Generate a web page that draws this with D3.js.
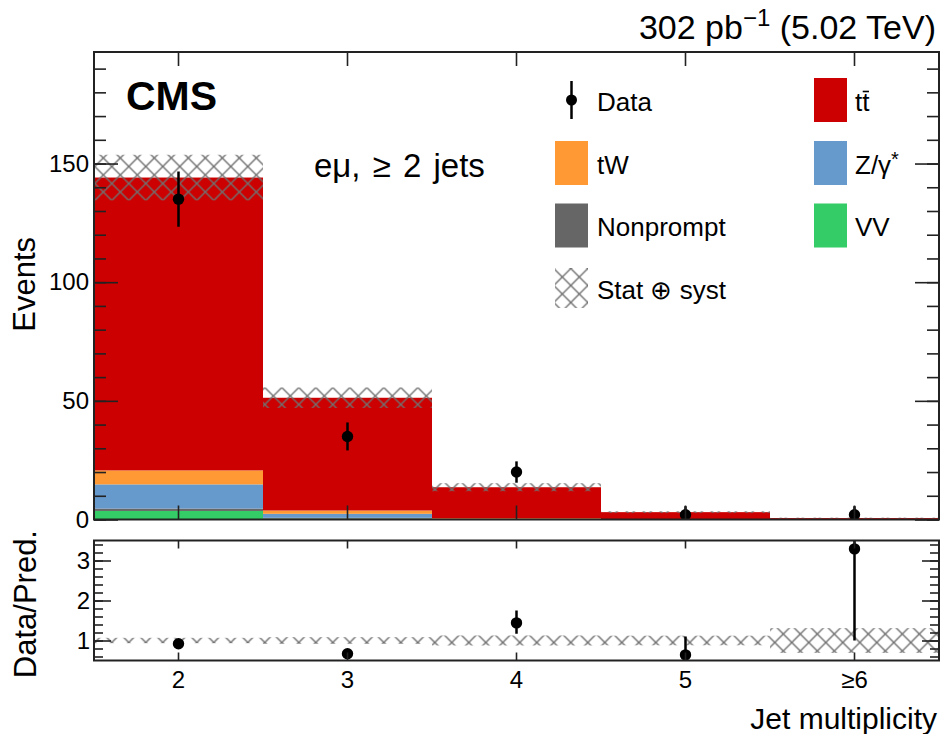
<!DOCTYPE html>
<html>
<head>
<meta charset="utf-8">
<script src="https://cdn.jsdelivr.net/npm/d3@7"></script>
<style>
body { margin: 0; background: #fff; }
svg { font-family: "Liberation Sans", Arial, sans-serif; }
</style>
</head>
<body>
<script>
// jet multiplicity bins
var bins = ["2", "3", "4", "5", "≥6"];

// predicted yields per process (events)
var ttbar     = [123.4, 47.5, 13.1, 3.0, 0.6];
var tW        = [5.9, 1.4, 0.3, 0.1, 0.0];
var dy        = [10.2, 1.7, 0.1, 0.0, 0.0];
var nonprompt = [1.0, 0.3, 0.0, 0.0, 0.0];
var vv        = [3.6, 0.4, 0.1, 0.0, 0.0];
var predUnc   = [9.6, 4.3, 1.7, 0.4, 0.2];   // stat+syst on total

// observed data
var data      = [135, 35, 20, 2, 2];
var dataErrLo = [11.6, 5.9, 4.5, 1.3, 1.3];
var dataErrHi = [11.6, 5.9, 4.5, 3.6, 3.6];

// ratio panel
var ratio      = [0.92, 0.67, 1.44, 0.64, 3.29];
var ratioErrLo = [0.08, 0.12, 0.27, 0.4, 2.29];
var ratioErrHi = [0.08, 0.12, 0.31, 0.46, 3.0];
var ratioUnc   = [0.067, 0.084, 0.125, 0.12, 0.31];

var mainTicks = [0, 50, 100, 150];
var ratioTicks = [1, 2, 3];

var W = 946, H = 734;
var left = 94, right = 939;
var mTop = 52, mBot = 519.5;
var rTop = 540.5, rBot = 660.5;

var keys = ["vv", "nonprompt", "dy", "tW", "ttbar"];
var colors = { ttbar: "#cc0000", tW: "#ff9933", dy: "#6699cc", nonprompt: "#666666", vv: "#33cc66" };
var ink = "#222";

var rows = bins.map(function (b, i) {
	return { bin: b, ttbar: ttbar[i], tW: tW[i], dy: dy[i], nonprompt: nonprompt[i], vv: vv[i] };
});
rows.forEach(function (d, i) {
	d.total = keys.reduce(function (s, k) { return s + d[k]; }, 0);
	d.unc = predUnc[i];
});

var x = d3.scaleBand().domain(bins).range([left, right]);
var y = d3.scaleLinear().domain([0, 197]).range([mBot, mTop]);
var yr = d3.scaleLinear().domain([0.5, 3.5]).range([rBot, rTop]);

var svg = d3.select("body").append("svg")
	.attr("width", W).attr("height", H);

var defs = svg.append("defs");
var pat = defs.append("pattern")
	.attr("id", "hatch")
	.attr("patternUnits", "userSpaceOnUse")
	.attr("x", 94.8).attr("y", 149.5)
	.attr("width", 17).attr("height", 17);
pat.append("path")
	.attr("d", "M0,0L17,17M-2,15L2,19M15,-2L19,2M0,17L17,0M-2,2L2,-2M15,19L19,15")
	.attr("stroke", "#707070").attr("stroke-width", 1.4).attr("fill", "none");

defs.append("clipPath").attr("id", "clipMain")
	.append("rect").attr("x", left).attr("y", mTop).attr("width", right - left).attr("height", mBot - mTop);
defs.append("clipPath").attr("id", "clipRatio")
	.append("rect").attr("x", left).attr("y", rTop).attr("width", right - left).attr("height", rBot - rTop);

// ---------- main panel ----------
var main = svg.append("g").attr("clip-path", "url(#clipMain)");

var series = d3.stack().keys(keys)(rows);
main.selectAll(".layer")
	.data(series)
	.enter().append("g")
	.attr("class", "layer")
	.attr("fill", function (s) { return colors[s.key]; })
	.selectAll("rect")
	.data(function (s) { return s; })
	.enter().append("rect")
	.attr("x", function (d) { return x(d.data.bin); })
	.attr("width", x.bandwidth())
	.attr("y", function (d) { return y(d[1]); })
	.attr("height", function (d) { return Math.max(0, y(d[0]) - y(d[1])); });

main.selectAll(".unc")
	.data(rows)
	.enter().append("rect")
	.attr("class", "unc")
	.attr("x", function (d) { return x(d.bin); })
	.attr("width", x.bandwidth())
	.attr("y", function (d) { return y(d.total + d.unc); })
	.attr("height", function (d) { return y(d.total - d.unc) - y(d.total + d.unc); })
	.attr("fill", "url(#hatch)");

var pts = bins.map(function (b, i) {
	return { bin: b, v: data[i], lo: dataErrLo[i], hi: dataErrHi[i] };
});
main.selectAll(".err")
	.data(pts)
	.enter().append("line")
	.attr("x1", function (d) { return x(d.bin) + x.bandwidth() / 2; })
	.attr("x2", function (d) { return x(d.bin) + x.bandwidth() / 2; })
	.attr("y1", function (d) { return y(d.v - d.lo); })
	.attr("y2", function (d) { return y(d.v + d.hi); })
	.attr("stroke", "#000").attr("stroke-width", 2.5);
main.selectAll(".pt")
	.data(pts)
	.enter().append("circle")
	.attr("cx", function (d) { return x(d.bin) + x.bandwidth() / 2; })
	.attr("cy", function (d) { return y(d.v); })
	.attr("r", 5.7).attr("fill", "#000");

// ---------- ratio panel ----------
var rp = svg.append("g").attr("clip-path", "url(#clipRatio)");
rp.selectAll(".runc")
	.data(bins)
	.enter().append("rect")
	.attr("x", function (d) { return x(d); })
	.attr("width", x.bandwidth())
	.attr("y", function (d, i) { return yr(1 + ratioUnc[i]); })
	.attr("height", function (d, i) { return yr(1 - ratioUnc[i]) - yr(1 + ratioUnc[i]); })
	.attr("fill", "url(#hatch)");

var rpts = bins.map(function (b, i) {
	return { bin: b, v: ratio[i], lo: ratioErrLo[i], hi: ratioErrHi[i] };
});
rp.selectAll(".rerr")
	.data(rpts)
	.enter().append("line")
	.attr("x1", function (d) { return x(d.bin) + x.bandwidth() / 2; })
	.attr("x2", function (d) { return x(d.bin) + x.bandwidth() / 2; })
	.attr("y1", function (d) { return yr(d.v - d.lo); })
	.attr("y2", function (d) { return yr(d.v + d.hi); })
	.attr("stroke", "#000").attr("stroke-width", 2.5);
rp.selectAll(".rpt")
	.data(rpts)
	.enter().append("circle")
	.attr("cx", function (d) { return x(d.bin) + x.bandwidth() / 2; })
	.attr("cy", function (d) { return yr(d.v); })
	.attr("r", 5.7).attr("fill", "#000");

// ---------- axes ----------
function styleAxis(g, labels) {
	g.select(".domain").remove();
	g.selectAll(".tick line").attr("stroke", ink).attr("stroke-width", 1.6);
	g.selectAll(".tick text").attr("fill", "#000").attr("font-size", "24px")
		.attr("font-family", "Liberation Sans, Arial, sans-serif");
	if (!labels) g.selectAll(".tick text").remove();
}

// main y
svg.append("g").attr("transform", "translate(" + left + ",0)")
	.call(d3.axisLeft(y).tickValues(mainTicks).tickSize(-24).tickPadding(5))
	.call(styleAxis, true);
svg.append("g").attr("transform", "translate(" + left + ",0)")
	.call(d3.axisLeft(y).tickValues(d3.range(0, 197, 10)).tickSize(-12))
	.call(styleAxis, false);
svg.append("g").attr("transform", "translate(" + right + ",0)")
	.call(d3.axisRight(y).tickValues(mainTicks).tickSize(-24))
	.call(styleAxis, false);
svg.append("g").attr("transform", "translate(" + right + ",0)")
	.call(d3.axisRight(y).tickValues(d3.range(0, 197, 10)).tickSize(-12))
	.call(styleAxis, false);
// main x
svg.append("g").attr("transform", "translate(0," + mBot + ")")
	.call(d3.axisBottom(x).tickSize(-14))
	.call(styleAxis, false);
svg.append("g").attr("transform", "translate(0," + mTop + ")")
	.call(d3.axisTop(x).tickSize(-14))
	.call(styleAxis, false);

// ratio y
svg.append("g").attr("transform", "translate(" + left + ",0)")
	.call(d3.axisLeft(yr).tickValues(ratioTicks).tickFormat(d3.format("d")).tickSize(-17).tickPadding(4))
	.call(styleAxis, true);
svg.append("g").attr("transform", "translate(" + left + ",0)")
	.call(d3.axisLeft(yr).tickValues(d3.range(0.6, 3.45, 0.2)).tickSize(-9))
	.call(styleAxis, false);
svg.append("g").attr("transform", "translate(" + right + ",0)")
	.call(d3.axisRight(yr).tickValues(ratioTicks).tickSize(-17))
	.call(styleAxis, false);
svg.append("g").attr("transform", "translate(" + right + ",0)")
	.call(d3.axisRight(yr).tickValues(d3.range(0.6, 3.45, 0.2)).tickSize(-9))
	.call(styleAxis, false);
// ratio x
svg.append("g").attr("transform", "translate(0," + rBot + ")")
	.call(d3.axisBottom(x).tickSize(-8).tickPadding(10))
	.call(styleAxis, true);
svg.append("g").attr("transform", "translate(0," + rTop + ")")
	.call(d3.axisTop(x).tickSize(-8))
	.call(styleAxis, false);

// frames
[[mTop, mBot], [rTop, rBot]].forEach(function (f) {
	svg.append("rect")
		.attr("x", left).attr("y", f[0])
		.attr("width", right - left).attr("height", f[1] - f[0])
		.attr("fill", "none").attr("stroke", ink).attr("stroke-width", 2);
});

// ---------- texts ----------
var title = svg.append("text")
	.attr("x", 936).attr("y", 39)
	.attr("text-anchor", "end").attr("font-size", "34px");
title.append("tspan").text("302 pb");
title.append("tspan").attr("font-size", "24px").attr("dy", -13).text("−1");
title.append("tspan").attr("dy", 13).text(" (5.02 TeV)");

svg.append("text")
	.attr("x", 126).attr("y", 110)
	.attr("font-size", "41px").attr("font-weight", "bold")
	.text("CMS");

svg.append("text")
	.attr("x", 314).attr("y", 177)
	.attr("font-size", "33px").attr("word-spacing", "3px")
	.text("eμ, ≥ 2 jets");

svg.append("text")
	.attr("transform", "translate(35,237) rotate(-90)")
	.attr("text-anchor", "end").attr("font-size", "31px")
	.text("Events");

svg.append("text")
	.attr("transform", "translate(36,530) rotate(-90)")
	.attr("text-anchor", "end").attr("font-size", "31px")
	.text("Data/Pred.");

svg.append("text")
	.attr("x", 937).attr("y", 729)
	.attr("text-anchor", "end").attr("font-size", "30px")
	.text("Jet multiplicity");

// ---------- legend ----------
var legLeft = [
	{ label: "Data", type: "data" },
	{ label: "tW", key: "tW" },
	{ label: "Nonprompt", key: "nonprompt" },
	{ label: "Stat ⊕ syst", type: "hatch" }
];
var legRight = [
	{ label: "tt", key: "ttbar" },
	{ label: "Z/γ", key: "dy" },
	{ label: "VV", key: "vv" }
];
var rowY = [100, 163, 225.5, 288];

function drawEntry(g, e, bx, tx, cy) {
	if (e.type === "data") {
		g.append("line").attr("x1", bx + 16.5).attr("x2", bx + 16.5)
			.attr("y1", cy - 19).attr("y2", cy + 19)
			.attr("stroke", "#000").attr("stroke-width", 2.5);
		g.append("circle").attr("cx", bx + 16.5).attr("cy", cy).attr("r", 5.5).attr("fill", "#000");
	} else if (e.type === "hatch") {
		g.append("rect").attr("x", bx).attr("y", cy - 20).attr("width", 33).attr("height", 40)
			.attr("fill", "url(#hatch)");
	} else {
		g.append("rect").attr("x", bx).attr("y", cy - 22).attr("width", 33).attr("height", 44)
			.attr("fill", colors[e.key]);
	}
	var t = g.append("text").attr("x", tx).attr("y", cy + 10.5).attr("font-size", "26px").text(e.label);
	if (e.key === "ttbar") {
		var n = t.node();
		var p = n.getStartPositionOfChar(1);
		var w = n.getSubStringLength(1, 1);
		g.append("line").attr("x1", p.x + 0.5).attr("x2", p.x + w - 0.5)
			.attr("y1", cy - 8.5).attr("y2", cy - 8.5)
			.attr("stroke", "#000").attr("stroke-width", 1.6);
	}
	if (e.key === "dy") {
		t.append("tspan").attr("dy", -8).attr("font-size", "20px").text("*");
	}
}

var leg = svg.append("g");
legLeft.forEach(function (e, i) { drawEntry(leg, e, 555, 597, rowY[i]); });
legRight.forEach(function (e, i) { drawEntry(leg, e, 814, 855, rowY[i]); });
</script>
</body>
</html>
